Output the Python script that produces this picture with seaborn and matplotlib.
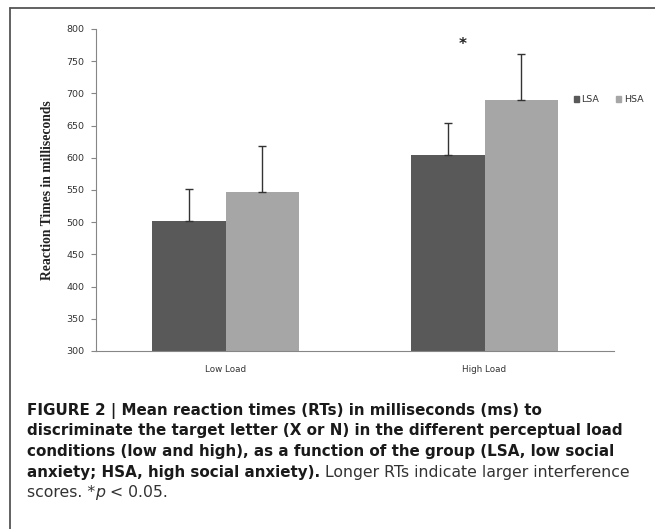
import matplotlib
matplotlib.use("Agg")
import matplotlib.pyplot as plt
import seaborn as sns
import pandas as pd
from matplotlib.lines import Line2D
from matplotlib.patches import Patch

# data
loads = ["Low Load", "High Load"]
groups = ["LSA", "HSA"]
lsa_means = [502, 604]
hsa_means = [547, 690]
lsa_err = [50, 50]
hsa_err = [72, 71]
bar_colors = ["#595959", "#a6a6a6"]
y_ticks = list(range(300, 801, 50))

df = pd.DataFrame({
    "Load": loads * 2,
    "Group": ["LSA"] * 2 + ["HSA"] * 2,
    "RT": lsa_means + hsa_means,
})
errs = {"LSA": lsa_err, "HSA": hsa_err}

sns.set_style("white")
plt.rcParams["font.family"] = ["DejaVu Sans"]

fig = plt.figure(figsize=(6.55, 5.29), dpi=100)
ax = fig.add_axes([0.1466, 0.3365, 0.7908, 0.6087])

sns.barplot(data=df, x="Load", y="RT", hue="Group", order=loads, hue_order=groups,
            palette=bar_colors, width=0.57, errorbar=None, saturation=1,
            linewidth=0, legend=False, ax=ax)

# upper error bars only
for grp, cont in zip(groups, ax.containers):
    for bar, e in zip(cont, errs[grp]):
        xc = bar.get_x() + bar.get_width() / 2
        ax.errorbar(xc, bar.get_height(), yerr=[[0], [e]], fmt="none",
                    ecolor="#333333", elinewidth=1, capsize=2.6, capthick=1)

ax.set_ylim(300, 800)
ax.set_xlim(-0.5, 1.5)
ax.set_yticks(y_ticks)
ax.set_yticklabels([str(v) for v in y_ticks], fontsize=6.8, color="#333333")
ax.set_xticks([0, 1])
ax.set_xticklabels(loads, fontsize=6.3, color="#333333")
ax.set_xticks([-0.5, 0.5, 1.5], minor=True)
ax.tick_params(axis="x", which="major", length=0, pad=10)
ax.tick_params(axis="x", which="minor", length=3.5, color="#868686", width=0.8)
ax.tick_params(axis="y", length=3.5, color="#868686", width=0.8, left=True, pad=5)
ax.set_xlabel("")
ax.set_ylabel("Reaction Times in milliseconds", family="Liberation Serif",
              fontweight="bold", fontsize=9.8, labelpad=9, color="#222222")
for s in ["top", "right"]:
    ax.spines[s].set_visible(False)
for s in ["left", "bottom"]:
    ax.spines[s].set_color("#868686")
    ax.spines[s].set_linewidth(0.8)

ax.text(0.917, 776, "*", ha="center", va="center", fontsize=11, fontweight="bold", color="#222222")

handles = [Patch(color=c, label=g) for c, g in zip(bar_colors, groups)]
ax.legend(handles=handles, loc="center left", bbox_to_anchor=(0.915, 0.78), ncol=2,
          frameon=False, handlelength=0.55, handleheight=0.55, handletextpad=0.25,
          columnspacing=1.8, fontsize=6.8, borderaxespad=0)
for t in ax.get_legend().get_texts():
    t.set_color("#333333")

# frame lines
fig.add_artist(Line2D([0.0153, 0.0153], [0, 0.985], transform=fig.transFigure, color="#555555", lw=1.3))
fig.add_artist(Line2D([0.0153, 1.0], [0.985, 0.985], transform=fig.transFigure, color="#555555", lw=1.3))

# caption
caption = [
    [("FIGURE 2 | Mean reaction times (RTs) in milliseconds (ms) to", "bold", "normal")],
    [("discriminate the target letter (X or N) in the different perceptual load", "bold", "normal")],
    [("conditions (low and high), as a function of the group (LSA, low social", "bold", "normal")],
    [("anxiety; HSA, high social anxiety).", "bold", "normal"),
     (" Longer RTs indicate larger interference", "normal", "normal")],
    [("scores. *", "normal", "normal"), ("p", "normal", "italic"), (" < 0.05.", "normal", "normal")],
]
baselines = [415, 435.5, 456, 476.5, 497]
renderer = fig.canvas.get_renderer()
for runs, yb in zip(caption, baselines):
    x = 27
    for txt, w, st in runs:
        size = 10.9 if w == "bold" else 11.3
        t = fig.text(x / 655, 1 - yb / 529, txt, fontsize=size, fontweight=w, fontstyle=st,
                     va="baseline", ha="left", color="#1a1a1a" if w == "bold" else "#333333")
        bb = t.get_window_extent(renderer=renderer)
        x = bb.x1

fig.savefig("out.png", dpi=100)
